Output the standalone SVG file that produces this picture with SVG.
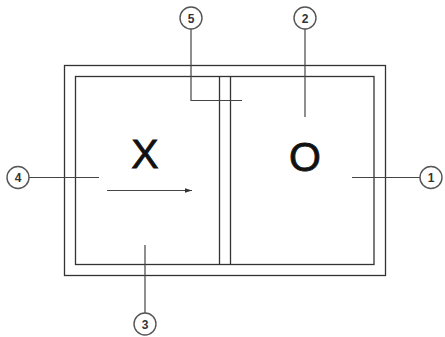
<svg xmlns="http://www.w3.org/2000/svg" width="445" height="337" viewBox="0 0 445 337">
<style>
.w{fill:none;stroke:#333;stroke-width:1.3}
.ld{fill:none;stroke:#444;stroke-width:1.2}
.c{fill:#fff;stroke:#555;stroke-width:1.4}
.n{font-family:"Liberation Sans",Arial,sans-serif;font-size:12px;font-weight:bold;fill:#333;text-anchor:middle}
.big{font-family:"Liberation Sans",Arial,sans-serif;font-size:41px;fill:#111;stroke:#111;stroke-width:0.8;text-anchor:middle}
</style>
<defs>
<marker id="ah" markerWidth="8" markerHeight="6" refX="7" refY="3" orient="auto" markerUnits="userSpaceOnUse">
<path d="M0,0.8 L7,3 L0,5.2 Z" fill="#333"/>
</marker>
</defs>
<g id="room">
<rect class="w" x="64.5" y="65.5" width="321" height="210"/>
<rect class="w" x="75.5" y="76.5" width="298.5" height="188"/>
<line class="w" x1="219.5" y1="76.5" x2="219.5" y2="264.5"/>
<line class="w" x1="230.5" y1="76.5" x2="230.5" y2="264.5"/>
<text class="big" x="145" y="168">X</text>
<text class="big" x="305" y="171">O</text>
</g>
<g id="connectors">
<polyline class="ld" points="191,29 191,100.5 242,100.5"/>
<line class="ld" x1="305" y1="29" x2="305" y2="117"/>
<line class="ld" x1="29" y1="177.5" x2="99" y2="177.5"/>
<line class="ld" x1="352" y1="177.5" x2="420" y2="177.5"/>
<line class="ld" x1="145" y1="245" x2="145" y2="313"/>
<line class="ld" x1="107" y1="190.5" x2="192" y2="190.5" marker-end="url(#ah)"/>
</g>
<g id="n5"><circle class="c" cx="191" cy="18" r="11"/><text class="n" x="191" y="22.5">5</text></g>
<g id="n2"><circle class="c" cx="305" cy="18" r="11"/><text class="n" x="305" y="22.5">2</text></g>
<g id="n4"><circle class="c" cx="18" cy="177.5" r="11"/><text class="n" x="18" y="182">4</text></g>
<g id="n1"><circle class="c" cx="431" cy="177.5" r="11"/><text class="n" x="431" y="182">1</text></g>
<g id="n3"><circle class="c" cx="145" cy="324" r="11"/><text class="n" x="145" y="328.5">3</text></g>
</svg>
